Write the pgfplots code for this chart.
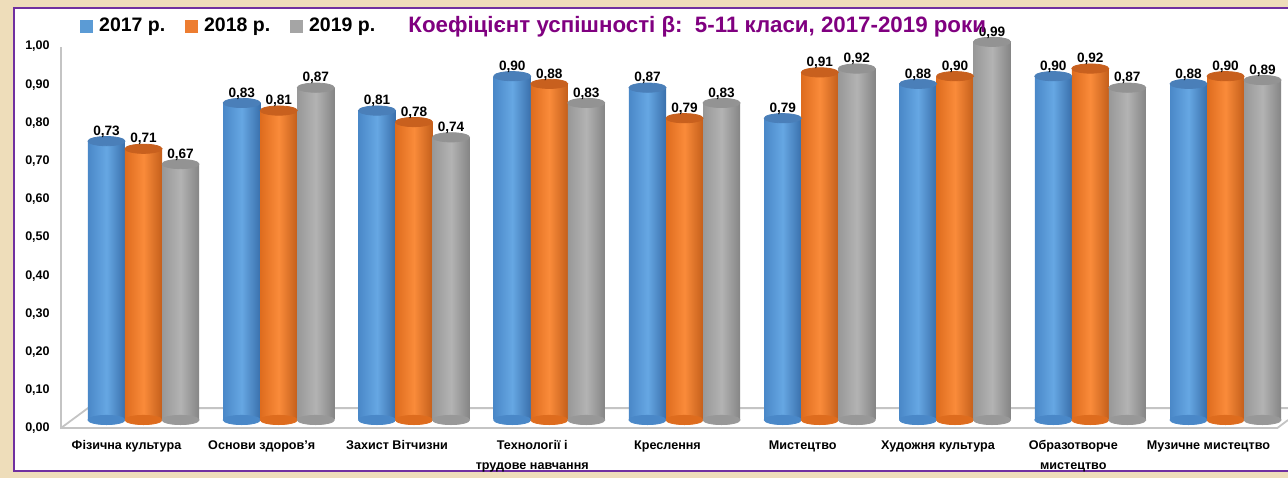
\documentclass[border=0pt]{standalone}
\usepackage{fontspec}
\setmainfont{Liberation Sans}
\usepackage{pgfplots}
\pgfplotsset{compat=1.18}
\usepackage{pgfplotstable}

\definecolor{bgc}{HTML}{EEDDBA}
\definecolor{frame}{HTML}{7030A0}
\definecolor{ttl}{HTML}{800080}
\definecolor{floorc}{HTML}{C4C4C4}
% 2017 blue
\definecolor{bL}{HTML}{4A88C8}\definecolor{bM}{HTML}{66A7E3}\definecolor{bR}{HTML}{3A70AC}\definecolor{bT}{HTML}{4A7FB9}
% 2018 orange
\definecolor{oL}{HTML}{DE6C1E}\definecolor{oM}{HTML}{FA8B3A}\definecolor{oR}{HTML}{C45F1B}\definecolor{oT}{HTML}{C8601E}
% 2019 gray
\definecolor{gL}{HTML}{989898}\definecolor{gM}{HTML}{B3B3B3}\definecolor{gR}{HTML}{858585}\definecolor{gT}{HTML}{939393}
\definecolor{c17}{HTML}{5B9BD5}\definecolor{c18}{HTML}{ED7D31}\definecolor{c19}{HTML}{A5A5A5}

% coefficient beta, 5-11 grades
\pgfplotstableread{
idx a b c
0 0.73 0.71 0.67
1 0.83 0.81 0.87
2 0.81 0.78 0.74
3 0.90 0.88 0.83
4 0.87 0.79 0.83
5 0.79 0.91 0.92
6 0.88 0.90 0.99
7 0.90 0.92 0.87
8 0.88 0.90 0.89
}\datatable

\newcommand{\bw}{0.2737}
\pgfplotsset{
  cyl/.style n args={3}{ybar, bar width=\bw, draw=none, left color=#1, right color=#3, middle color=#2},
  cylend/.style={only marks, mark=*, mark size=9.25pt, color=#1,
     mark options={yscale=0.25, draw=#1, fill=#1}},
  cyltop/.style={only marks, mark=*, mark size=9.25pt, color=#1,
     mark options={yscale=0.25, draw=#1, fill=#1},
     nodes near coords={\pgfmathprintnumber[fixed, fixed zerofill, precision=2, use comma, assume math mode=true]{\pgfplotspointmeta}},
     every node near coord/.append style={anchor=base, yshift=2.9pt, inner sep=0pt,
        font=\fontsize{6.8}{7.5}\selectfont\bfseries, text=black}},
}

\begin{document}
\begin{tikzpicture}
\fill[bgc] (0,0) rectangle (644pt,239pt);
\draw[frame, line width=1.1pt, fill=white] (7pt,3.5pt) rectangle (660pt,235pt);
\begin{axis}[
    at={(30.5pt,25pt)}, anchor=south west,
    scale only axis, width=613.5pt, height=195pt,
    xmin=-0.610, xmax=8.462, ymin=-0.021, ymax=1.0,
    clip=false,
    axis line style={draw=none}, tick style={draw=none}, major tick length=0pt,
    ytick={0,0.1,0.2,0.3,0.4,0.5,0.6,0.7,0.8,0.9,1.0},
    yticklabel style={anchor=east, inner sep=0pt, xshift=-5.5pt, yshift=-4.25pt,
        font=\fontsize{6.25}{7}\selectfont\bfseries,
        /pgf/number format/fixed, /pgf/number format/fixed zerofill,
        /pgf/number format/precision=2, /pgf/number format/use comma,
        /pgf/number format/assume math mode=true},
    xtick={0,1,2,3,4,5,6,7,8},
    xticklabels={Фізична культура, Основи здоров’я, Захист Вітчизни,
        {Технології і\\трудове навчання}, Креслення, Мистецтво, Художня культура,
        {Образотворче\\мистецтво}, Музичне мистецтво},
    xticklabel style={anchor=north, inner sep=0pt, xshift=-8.5pt, yshift=-6pt, align=center,
        font=\fontsize{6.3}{10}\selectfont\bfseries},
    title={Коефіцієнт успішності β:\ \ 5-11 класи, 2017-2019 роки},
    title style={at={(0.2828,0.9846)}, anchor=base west, inner sep=0pt, yshift=0pt,
        font=\fontsize{11.15}{12}\selectfont\bfseries, text=ttl},
    legend style={at={(0.0106,1.031)}, anchor=west, draw=none, fill=none,
        legend columns=3, font=\fontsize{9.75}{11}\selectfont\bfseries,
        nodes={inner sep=0pt},
        /tikz/every odd column/.append style={column sep=3pt},
        /tikz/every even column/.append style={column sep=10pt}},
]
\addlegendimage{legend image code/.code={\fill[c17] (0pt,-3pt) rectangle (6pt,3pt);}}
\addlegendentry{2017 р.}
\addlegendimage{legend image code/.code={\fill[c18] (0pt,-3pt) rectangle (6pt,3pt);}}
\addlegendentry{2018 р.}
\addlegendimage{legend image code/.code={\fill[c19] (0pt,-3pt) rectangle (6pt,3pt);}}
\addlegendentry{2019 р.}

% floor and vertical axis of the 3-D frame
\addplot[floorc, line width=0.9pt, no marks] coordinates
  {(-0.610,0.976) (-0.610,-0.021) (8.383,-0.021) (8.462,0.0)};
\addplot[floorc, line width=0.9pt, no marks] coordinates
  {(-0.610,-0.021) (-0.411,0.031) (8.462,0.031)};

% cylinder bottoms
\addplot[cylend=bL] table[x expr=\thisrow{idx}-\bw, y expr=0] {\datatable};
\addplot[cylend=oL] table[x=idx, y expr=0] {\datatable};
\addplot[cylend=gL] table[x expr=\thisrow{idx}+\bw, y expr=0] {\datatable};
% bodies, one path per bar so that each gets its own shading
\pgfplotsinvokeforeach{0,...,8}{
  \addplot[cyl={bL}{bM}{bR}, bar shift=-\bw, restrict expr to domain={\coordindex}{#1:#1}] table[x=idx, y=a] {\datatable};
  \addplot[cyl={oL}{oM}{oR}, bar shift=0, restrict expr to domain={\coordindex}{#1:#1}] table[x=idx, y=b] {\datatable};
  \addplot[cyl={gL}{gM}{gR}, bar shift=\bw, restrict expr to domain={\coordindex}{#1:#1}] table[x=idx, y=c] {\datatable};
}
% tops with values
\addplot[cyltop=bT] table[x expr=\thisrow{idx}-\bw, y=a] {\datatable};
\addplot[cyltop=oT] table[x=idx, y=b] {\datatable};
\addplot[cyltop=gT] table[x expr=\thisrow{idx}+\bw, y=c] {\datatable};
\end{axis}
\pgfresetboundingbox
\useasboundingbox (0,0) rectangle (644pt,239pt);
\end{tikzpicture}
\end{document}
